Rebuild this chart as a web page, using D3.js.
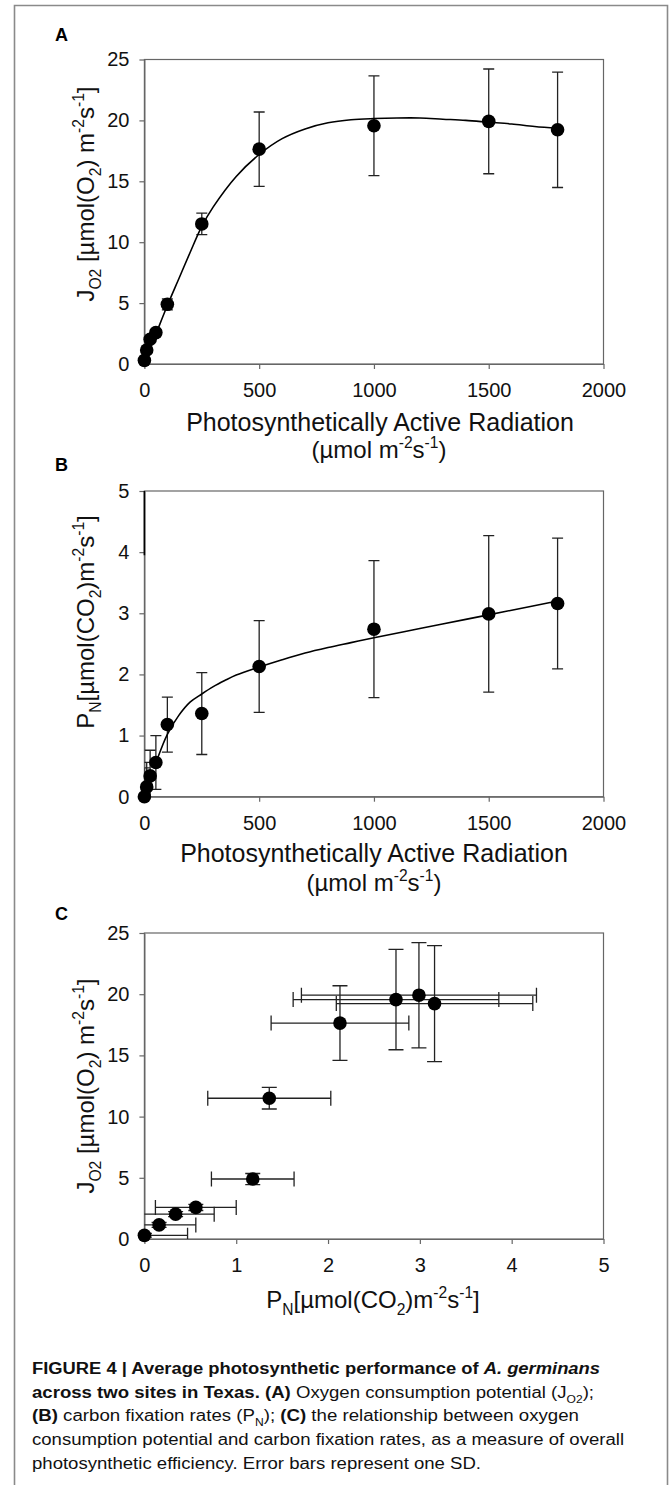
<!DOCTYPE html>
<html lang="en">
<head>
<meta charset="UTF-8">
<title>Figure 4 - photosynthetic performance</title>
<script src="https://d3js.org/d3.v7.min.js"></script>
<style>
  body { margin: 0; background: #fff; }
  svg { display: block; font-family: "Liberation Sans", Arial, sans-serif; }
  .tick text { font-size: 20px; fill: #111; }
  .tick line, .domain { stroke: #666; stroke-width: 1.2px; }
  .frame { fill: none; stroke: #666; stroke-width: 1.2px; }
  .err { stroke: #222; stroke-width: 1.3px; fill: none; }
  .fit { stroke: #000; stroke-width: 1.6px; fill: none; }
  .dot { fill: #000; }
</style>
</head>
<body>
<div id="figure"></div>
<script>
// light levels (PAR, umol m-2 s-1)
const parLevels = [0, 10, 25, 50, 100, 250, 500, 1000, 1500, 1800];
// oxygen consumption potential J_O2 (mean, SD)
const jO2 = [0.3, 1.15, 2.03, 2.58, 4.9, 11.5, 17.64, 19.56, 19.92, 19.23];
const jO2Sd = [0.15, 0.2, 0.2, 0.25, 0.45, 0.88, 3.05, 4.1, 4.3, 4.74];
// carbon fixation P_N (mean, SD)
const pN = [0.0, 0.16, 0.34, 0.56, 1.18, 1.36, 2.13, 2.74, 2.99, 3.16];
const pNSd = [0.47, 0.4, 0.42, 0.44, 0.45, 0.67, 0.75, 1.12, 1.28, 1.07];

// fitted curves
const jFitX = [0, 50, 100, 150, 200, 250, 300, 400, 500, 600, 700, 800, 900, 1000, 1100, 1200, 1300, 1400, 1500, 1600, 1700, 1800];
const jFitY = [0.1, 2.45, 4.8, 7.0, 9.2, 11.3, 12.9, 15.4, 17.2, 18.5, 19.3, 19.8, 20.05, 20.15, 20.2, 20.2, 20.1, 20.0, 19.85, 19.7, 19.5, 19.35];
const pFitX = [45, 75, 100, 150, 200, 250, 300, 350, 400, 500, 600, 700, 800, 900, 1000, 1200, 1400, 1600, 1800];
const pFitY = [0.5, 0.8, 1.02, 1.33, 1.55, 1.68, 1.8, 1.9, 1.99, 2.12, 2.24, 2.35, 2.44, 2.52, 2.6, 2.75, 2.9, 3.05, 3.2];
// left branch of the P_N fit that runs up the axis
const pBranchX = [0, 0];
const pBranchY = [5, 3.95];

const parTicks = [0, 500, 1000, 1500, 2000];
const jTicks = [0, 5, 10, 15, 20, 25];
const pTicks = [0, 1, 2, 3, 4, 5];
const pnTicks = [0, 1, 2, 3, 4, 5];

const W = 669, H = 1485;
const plotLeft = 144.4, plotRight = 603.5;

const svg = d3.select("#figure").append("svg")
  .attr("width", W).attr("height", H);

// outer figure border
svg.append("path")
  .attr("d", `M14.5,1490 V5.5 H667.5 V1490`)
  .attr("fill", "none").attr("stroke", "#8a8a8a").attr("stroke-width", 1.6);

// rich text helper: parts = [[text, kind, style]]
function rich(text, parts, size) {
  let shift = 0;
  parts.forEach(([str, kind, style]) => {
    const t = text.append("tspan").text(str);
    const target = kind === "sub" ? size * 0.3 : kind === "sup" ? -size * 0.4 : 0;
    t.attr("dy", target - shift);
    shift = target;
    if (kind === "sub" || kind === "sup") t.attr("font-size", size * 0.65);
    if (style && style.includes("b")) t.attr("font-weight", "bold");
    if (style && style.includes("i")) t.attr("font-style", "italic");
  });
}

const jLabel = [["J"], ["O2", "sub"], [" [µmol(O"], ["2", "sub"], [") m"], ["-2", "sup"], ["s"], ["-1", "sup"], ["]"]];
const pLabel = [["P"], ["N", "sub"], ["[µmol(CO"], ["2", "sub"], [")m"], ["-2", "sup"], ["s"], ["-1", "sup"], ["]"]];
const unitLabel = [["(µmol m"], ["-2", "sup"], ["s"], ["-1", "sup"], [")"]];

function panel(cfg) {
  const g = svg.append("g");
  const x = d3.scaleLinear().domain(cfg.xDomain).range([plotLeft, plotRight]);
  const y = d3.scaleLinear().domain(cfg.yDomain).range([cfg.bottom, cfg.top]);

  const clipId = "clip-" + cfg.letter;
  svg.append("clipPath").attr("id", clipId)
    .append("rect")
    .attr("x", plotLeft).attr("y", cfg.top)
    .attr("width", plotRight - plotLeft).attr("height", cfg.bottom - cfg.top);
  // fits may sit on the left axis, so give them a little room
  svg.append("clipPath").attr("id", clipId + "-fit")
    .append("rect")
    .attr("x", plotLeft - 3).attr("y", cfg.top)
    .attr("width", plotRight - plotLeft + 3).attr("height", cfg.bottom - cfg.top);

  g.append("rect").attr("class", "frame")
    .attr("x", plotLeft).attr("y", cfg.top)
    .attr("width", plotRight - plotLeft).attr("height", cfg.bottom - cfg.top);

  g.append("g")
    .attr("transform", `translate(0,${cfg.bottom})`)
    .call(d3.axisBottom(x).tickValues(cfg.xTicks).tickFormat(d3.format("d"))
      .tickSize(5).tickSizeOuter(0).tickPadding(14));
  g.append("g")
    .attr("transform", `translate(${plotLeft},0)`)
    .call(d3.axisLeft(y).tickValues(cfg.yTicks).tickFormat(d3.format("d"))
      .tickSize(5).tickSizeOuter(0).tickPadding(10));

  // panel letter
  g.append("text")
    .attr("x", 55).attr("y", cfg.letterY)
    .attr("font-size", 18).attr("font-weight", "bold")
    .text(cfg.letter);

  // y title
  const yt = g.append("text")
    .attr("transform", `translate(94,${cfg.yTitleY}) rotate(-90)`)
    .attr("text-anchor", "middle").attr("font-size", 24).attr("fill", "#111");
  rich(yt, cfg.yLabel, 24);

  // x titles
  cfg.xTitles.forEach(t => {
    const el = g.append("text")
      .attr("x", t.x).attr("y", t.y)
      .attr("text-anchor", "middle").attr("font-size", t.size).attr("fill", "#111");
    rich(el, t.parts, t.size);
  });

  const marks = g.append("g").attr("clip-path", `url(#${clipId})`);
  const data = cfg.xs.map((v, i) => ({ x: v, y: cfg.ys[i], ySd: cfg.ySd[i], xSd: cfg.xSd ? cfg.xSd[i] : 0 }));

  // vertical error bars
  data.forEach(d => {
    const cx = x(d.x), y0 = y(d.y - d.ySd), y1 = y(d.y + d.ySd);
    marks.append("path").attr("class", "err").attr("stroke-width", cfg.errWidth)
      .attr("d", `M${cx},${y0}V${y1}M${cx - cfg.cap},${y0}H${cx + cfg.cap}M${cx - cfg.cap},${y1}H${cx + cfg.cap}`);
  });
  // horizontal error bars
  if (cfg.xSd) {
    data.forEach(d => {
      const cy = y(d.y), x0 = x(d.x - d.xSd), x1 = x(d.x + d.xSd);
      marks.append("path").attr("class", "err").attr("stroke-width", cfg.errWidth)
        .attr("d", `M${x0},${cy}H${x1}M${x0},${cy - cfg.cap}V${cy + cfg.cap}M${x1},${cy - cfg.cap}V${cy + cfg.cap}`);
    });
  }

  // fitted curves
  const fitLayer = g.append("g").attr("clip-path", `url(#${clipId}-fit)`);
  const line = d3.line().x(d => x(d[0])).y(d => y(d[1])).curve(d3.curveCatmullRom);
  (cfg.fits || []).forEach(f => {
    fitLayer.append("path").attr("class", "fit")
      .attr("stroke-width", f.width || 1.6)
      .attr("d", line(f.xs.map((v, i) => [v, f.ys[i]])));
  });

  // markers
  g.selectAll(null).data(data).enter().append("circle")
    .attr("class", "dot")
    .attr("cx", d => x(d.x)).attr("cy", d => y(d.y)).attr("r", 6.8);
}

panel({
  letter: "A", letterY: 41, top: 59.5, bottom: 364,
  xDomain: [0, 2000], yDomain: [0, 25], xTicks: parTicks, yTicks: jTicks,
  xs: parLevels, ys: jO2, ySd: jO2Sd, cap: 5.5, errWidth: 1.3,
  fits: [{ xs: jFitX, ys: jFitY }],
  yLabel: jLabel, yTitleY: 194,
  xTitles: [
    { x: 380, y: 430.5, size: 25, parts: [["Photosynthetically Active Radiation"]] },
    { x: 379, y: 458, size: 24, parts: unitLabel }
  ]
});

panel({
  letter: "B", letterY: 471, top: 491, bottom: 796.7,
  xDomain: [0, 2000], yDomain: [0, 5], xTicks: parTicks, yTicks: pTicks,
  xs: parLevels, ys: pN, ySd: pNSd, cap: 5.5, errWidth: 1.3,
  fits: [{ xs: pFitX, ys: pFitY }, { xs: pBranchX, ys: pBranchY, width: 3 }],
  yLabel: pLabel, yTitleY: 622,
  xTitles: [
    { x: 374, y: 862, size: 25, parts: [["Photosynthetically Active Radiation"]] },
    { x: 374, y: 891, size: 24, parts: unitLabel }
  ]
});

panel({
  letter: "C", letterY: 919.5, top: 933, bottom: 1239,
  xDomain: [0, 5], yDomain: [0, 25], xTicks: pnTicks, yTicks: jTicks,
  xs: pN, ys: jO2, ySd: jO2Sd, xSd: pNSd, cap: 7.5, errWidth: 1.8,
  yLabel: jLabel, yTitleY: 1086,
  xTitles: [
    { x: 373, y: 1308, size: 24, parts: pLabel }
  ]
});

// caption
const captionLines = [
  { y: 1374, len: 568, parts: [["FIGURE 4 | Average photosynthetic performance of ", null, "b"], ["A. germinans", null, "bi"]] },
  { y: 1397.7, len: 562, parts: [["across two sites in Texas. (A)", null, "b"], [" Oxygen consumption potential (J"], ["O2", "sub"], [");"]] },
  { y: 1421, len: 547, parts: [["(B)", null, "b"], [" carbon fixation rates (P"], ["N", "sub"], ["); "], ["(C)", null, "b"], [" the relationship between oxygen"]] },
  { y: 1445, len: 592, parts: [["consumption potential and carbon fixation rates, as a measure of overall"]] },
  { y: 1469, len: 449, parts: [["photosynthetic efficiency. Error bars represent one SD."]] }
];
captionLines.forEach(c => {
  const t = svg.append("text")
    .attr("x", 32).attr("y", c.y)
    .attr("font-size", 16).attr("fill", "#111")
    .attr("textLength", c.len).attr("lengthAdjust", "spacingAndGlyphs");
  rich(t, c.parts, 16);
});
</script>
</body>
</html>
